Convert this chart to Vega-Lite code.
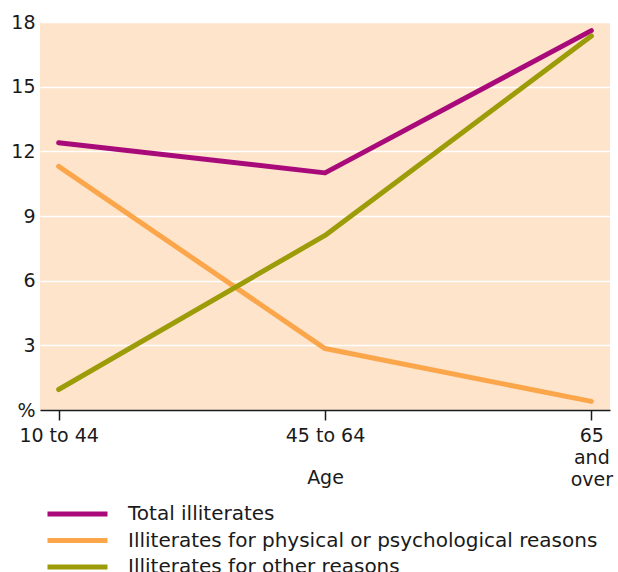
{
  "$schema": "https://vega.github.io/schema/vega-lite/v6.json",
  "width": 570,
  "height": 388,
  "autosize": "none",
  "padding": {"left": 40, "top": 22, "right": 8, "bottom": 162},
  "background": "white",
  "config": {
    "font": "DejaVu Sans",
    "view": {"fill": "#fde4cb", "stroke": null}
  },
  "data": {
    "values": [
      {"age": "10 to 44", "series": "Total illiterates", "value": 12.4},
      {"age": "45 to 64", "series": "Total illiterates", "value": 11.0},
      {"age": "65 and over", "series": "Total illiterates", "value": 17.6},
      {"age": "10 to 44", "series": "Illiterates for physical or psychological reasons", "value": 11.3},
      {"age": "45 to 64", "series": "Illiterates for physical or psychological reasons", "value": 2.85},
      {"age": "65 and over", "series": "Illiterates for physical or psychological reasons", "value": 0.4},
      {"age": "10 to 44", "series": "Illiterates for other reasons", "value": 0.95},
      {"age": "45 to 64", "series": "Illiterates for other reasons", "value": 8.1},
      {"age": "65 and over", "series": "Illiterates for other reasons", "value": 17.35}
    ]
  },
  "mark": {"type": "line", "strokeWidth": 5, "strokeCap": "round", "strokeJoin": "round"},
  "encoding": {
    "x": {
      "field": "age",
      "type": "ordinal",
      "sort": ["10 to 44", "45 to 64", "65 and over"],
      "scale": {"type": "point", "padding": 0.07},
      "axis": {
        "title": "Age",
        "titleFontSize": 19,
        "titleFontWeight": "normal",
        "titleColor": "#1a1a1a",
        "titleY": 58,
        "labelAngle": 0,
        "labelFontSize": 19,
        "labelColor": "#1a1a1a",
        "labelPadding": 6,
        "labelLineHeight": 22,
        "labelExpr": "datum.label == '65 and over' ? ['65', 'and', 'over'] : datum.label",
        "domainColor": "#1a1a1a",
        "domainWidth": 1.5,
        "tickColor": "#1a1a1a",
        "tickWidth": 1.5,
        "tickSize": 10,
        "grid": false
      }
    },
    "y": {
      "field": "value",
      "type": "quantitative",
      "scale": {"domain": [0, 18], "nice": false},
      "axis": {
        "title": null,
        "values": [0, 3, 6, 9, 12, 15, 18],
        "labelExpr": "datum.value == 0 ? '%' : datum.label",
        "labelFontSize": 19,
        "labelColor": "#1a1a1a",
        "labelPadding": 5,
        "ticks": false,
        "domain": false,
        "grid": true,
        "gridColor": "white",
        "gridWidth": 1.5
      }
    },
    "color": {
      "field": "series",
      "type": "nominal",
      "sort": ["Total illiterates", "Illiterates for physical or psychological reasons", "Illiterates for other reasons"],
      "scale": {
        "domain": ["Total illiterates", "Illiterates for physical or psychological reasons", "Illiterates for other reasons"],
        "range": ["#a80a7a", "#fca64c", "#9c9c08"]
      },
      "legend": {
        "title": null,
        "orient": "none",
        "legendX": 5,
        "legendY": 482,
        "direction": "vertical",
        "symbolType": "stroke",
        "symbolSize": 3600,
        "symbolStrokeWidth": 5,
        "clipHeight": 20,
        "labelFontSize": 20,
        "labelColor": "#1a1a1a",
        "labelOffset": 18,
        "labelLimit": 600,
        "rowPadding": 6.5,
        "padding": 0
      }
    }
  }
}
